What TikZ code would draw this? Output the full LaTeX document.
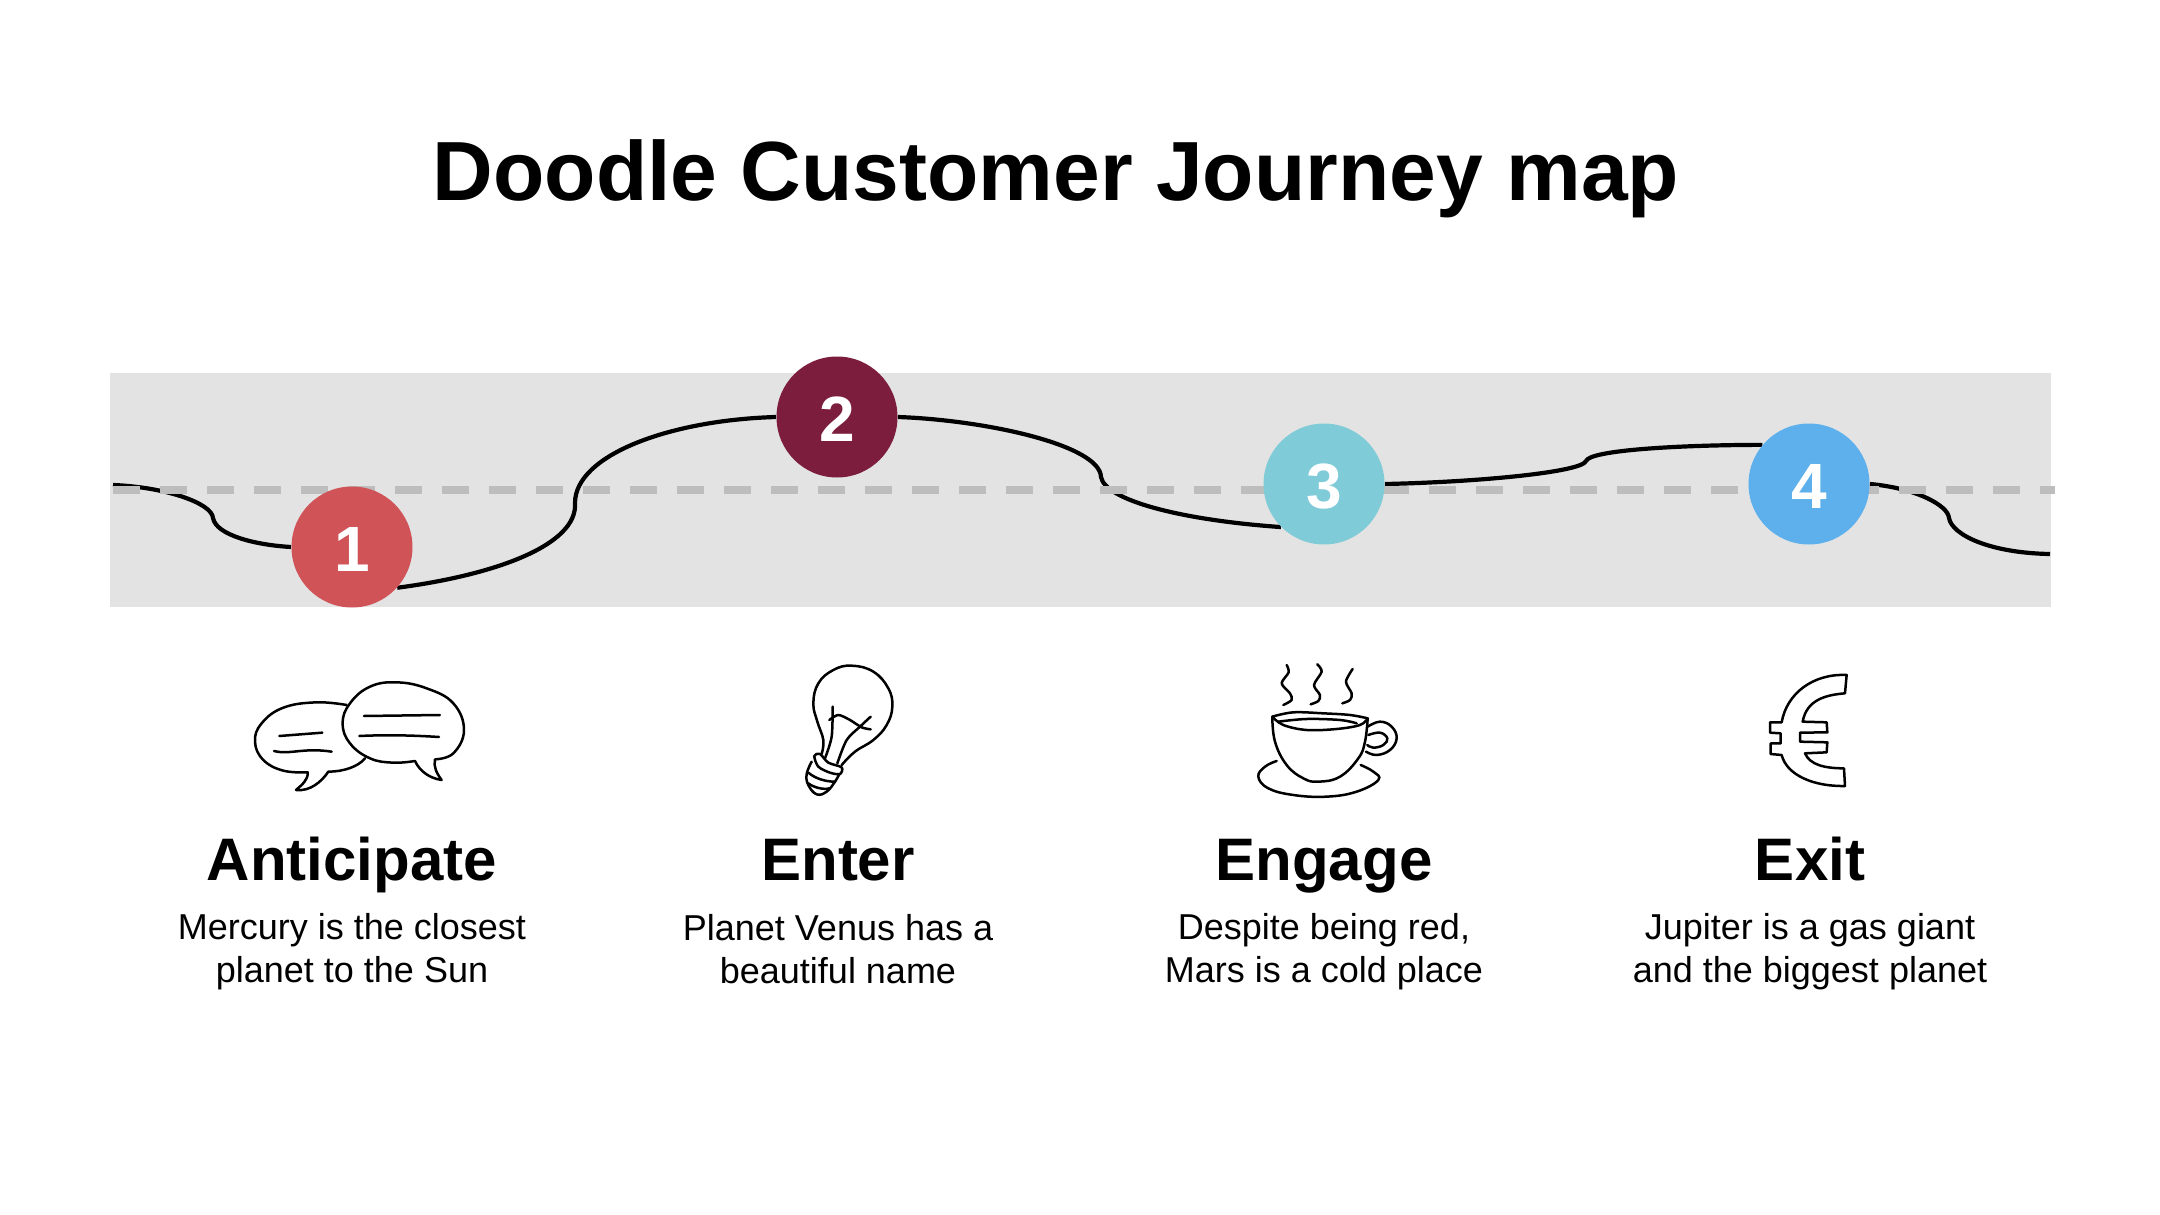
\documentclass[tikz,border=0pt]{standalone}
\usepackage{fontspec}
\setmainfont{Liberation Sans}
\usetikzlibrary{backgrounds}

\begin{document}
\begin{tikzpicture}[x=0.5pt,y=-0.5pt,
    stepdot/.style={circle,minimum size=60.5pt,inner sep=0pt,text height=24pt,text depth=0pt,text=white,font=\fontsize{32}{32}\selectfont\bfseries},
    heading/.style={anchor=base,font=\fontsize{30}{32}\selectfont\bfseries},
    caption/.style={align=center,font=\fontsize{18}{21.5}\selectfont},
    journey/.style={line width=2.1pt,black},
    doodle/.style={line width=1.25pt,black,line join=round,line cap=round},
    iconzoom/.style={x=0.5pt/3,y=-0.5pt/3}]
    \path[use as bounding box] (0,0) rectangle (2160,1215);

    % steps on the band
    \node[stepdot,fill={rgb,255:red,207;green,83;blue,87}] (n1) at (352,547) {1};
    \node[stepdot,fill={rgb,255:red,125;green,29;blue,61}] (n2) at (837,417) {2};
    \node[stepdot,fill={rgb,255:red,128;green,203;blue,216}] (n3) at (1324,484) {3};
    \node[stepdot,fill={rgb,255:red,93;green,176;blue,235}] (n4) at (1809,484) {4};
    \coordinate (start) at (113,485);
    \coordinate (finish) at (2050,554);

    \begin{scope}[on background layer]
        \fill[white] (0,0) rectangle (2160,1215);
        \fill[black!11] (110,373) rectangle (2051,607);
        \draw[journey] (start) .. controls (165,487) and (212,503) .. (213,518)
            .. controls (216,535) and (255,545) .. (n1.west);
        \draw[journey] (n1.-42) .. controls (495,575) and (578,545) .. (575,503)
            .. controls (575,455) and (670,420) .. (n2.west);
        \draw[journey] (n2.east) .. controls (985,420) and (1100,445) .. (1101,477)
            .. controls (1105,500) and (1180,520) .. (n3.225);
        \draw[journey] (n3.east) .. controls (1480,482) and (1582,472) .. (1586,461)
            .. controls (1590,450) and (1680,445) .. (n4.140);
        \draw[journey] (n4.east) .. controls (1915,488) and (1948,505) .. (1949,518)
            .. controls (1952,535) and (1990,553) .. (finish);
        \draw[line width=3.6pt,black!26,dash pattern=on 13.5pt off 10pt] (113,490) -- (2055,490);
    \end{scope}

    % title
    \node[anchor=base,font=\fontsize{42}{44}\selectfont\bfseries] (title) at (1056,200) {Doodle Customer Journey map};

    % headings and captions
    \node[heading] (h1) at (352,880) {Anticipate};
    \node[heading] (h2) at (838,880) {Enter};
    \node[heading] (h3) at (1324,880) {Engage};
    \node[heading] (h4) at (1810,880) {Exit};
    \node[caption] (c1) at (352,952) {Mercury is the closest\\planet to the Sun};
    \node[caption] (c2) at (838,949) {Planet Venus has a\\beautiful name};
    \node[caption] (c3) at (1324,952) {Despite being red,\\Mars is a cold place};
    \node[caption] (c4) at (1810,952) {Jupiter is a gas giant\\and the biggest planet};

    % speech bubbles
    \begin{scope}[shift={(240,660)},iconzoom]
        \draw[doodle] plot[smooth,tension=0.7] coordinates {(320,135) (230,127) (130,143) (65,190) (45,245) (70,300) (130,332) (203,337)}
            .. controls (205,360) and (185,375) .. (168,390)
            .. controls (210,395) and (245,365) .. (265,335)
            .. controls (310,335) and (355,320) .. (375,295);
        \draw[doodle] plot[smooth,tension=0.7] coordinates {(585,298) (640,280) (672,210) (640,130) (560,85) (470,67) (390,80) (330,130) (308,190) (330,250) (390,295) (460,308) (525,303)}
            .. controls (540,335) and (570,355) .. (605,360)
            .. controls (590,340) and (580,320) .. (585,298);
        \draw[doodle] (372,168) -- (600,165);
        \draw[doodle] (358,228) .. controls (440,224) and (520,226) .. (597,231);
        \draw[doodle] (118,228) -- (247,218);
        \draw[doodle] (102,273) .. controls (150,285) and (190,262) .. (275,275);
    \end{scope}

    % bulb
    \begin{scope}[shift={(780,650)},iconzoom]
        \draw[doodle] plot[smooth,tension=0.7] coordinates {(125,312) (130,270) (112,215) (100,160) (115,100) (160,60) (215,47) (280,65) (325,115) (337,170) (320,225) (280,270) (225,305) (185,345)};
        \draw[doodle] plot[smooth] coordinates {(135,325) (155,260) (158,170)};
        \draw[doodle] plot[smooth] coordinates {(172,340) (200,270) (240,230) (272,200)};
        \draw[doodle] plot[smooth] coordinates {(148,210) (175,195) (210,210) (245,232) (272,238)};
        \draw[doodle] plot[smooth cycle,tension=0.5] coordinates {(103,318) (120,312) (145,338) (185,352) (180,372) (150,368) (115,350)};
        \draw[doodle] plot[smooth,tension=0.7] coordinates {(95,335) (80,372) (85,405) (110,433) (140,425) (165,395) (178,372)};
        \draw[doodle] (85,368) .. controls (105,385) and (135,395) .. (165,395);
        \draw[doodle] (85,400) .. controls (100,412) and (130,420) .. (148,415);
    \end{scope}

    % cup
    \begin{scope}[shift={(1240,655)},iconzoom]
        \draw[doodle] plot[smooth] coordinates {(140,30) (146,52) (125,85) (150,115) (155,135) (130,150)};
        \draw[doodle] plot[smooth] coordinates {(232,28) (245,50) (222,90) (240,120) (235,138) (212,148)};
        \draw[doodle] plot[smooth] coordinates {(338,42) (318,80) (335,115) (330,135) (307,145)};
        \draw[doodle] plot[smooth,tension=0.6] coordinates {(97,185) (160,172) (250,175) (330,180) (383,190)};
        \draw[doodle] plot[smooth,tension=0.6] coordinates {(97,185) (130,210) (200,225) (290,222) (360,210) (383,190)};
        \draw[doodle] plot[smooth,tension=0.6] coordinates {(115,200) (200,192) (300,195) (350,205)};
        \draw[doodle] plot[smooth,tension=0.7] coordinates {(97,185) (105,260) (140,330) (190,370) (235,380) (300,365) (355,310) (375,260) (383,190)};
        \draw[doodle] plot[smooth,tension=0.7] coordinates {(383,215) (420,200) (455,215) (470,250) (450,285) (410,300) (378,290)};
        \draw[doodle] plot[smooth,tension=0.7] coordinates {(385,240) (420,233) (442,250) (430,270) (400,278) (382,270)};
        \draw[doodle] plot[smooth,tension=0.7] coordinates {(110,318) (75,335) (55,365) (85,400) (160,420) (260,425) (350,410) (415,375) (400,350) (362,330)};
    \end{scope}

    % euro
    \begin{scope}[shift={(1750,660)},iconzoom]
        \draw[doodle] (290,45) -- (285,100) .. controls (225,105) and (170,120) .. (158,185)
            -- (230,187) -- (232,217) -- (150,218) -- (150,245) -- (232,247) -- (230,277) -- (165,280)
            .. controls (180,315) and (225,325) .. (282,325) -- (285,378)
            .. controls (190,380) and (110,345) .. (95,285)
            -- (62,282) -- (62,250) -- (92,250) -- (92,220) -- (60,218) -- (60,187) -- (95,187)
            .. controls (110,100) and (190,40) .. (290,45) -- cycle;
    \end{scope}
\end{tikzpicture}
\end{document}
